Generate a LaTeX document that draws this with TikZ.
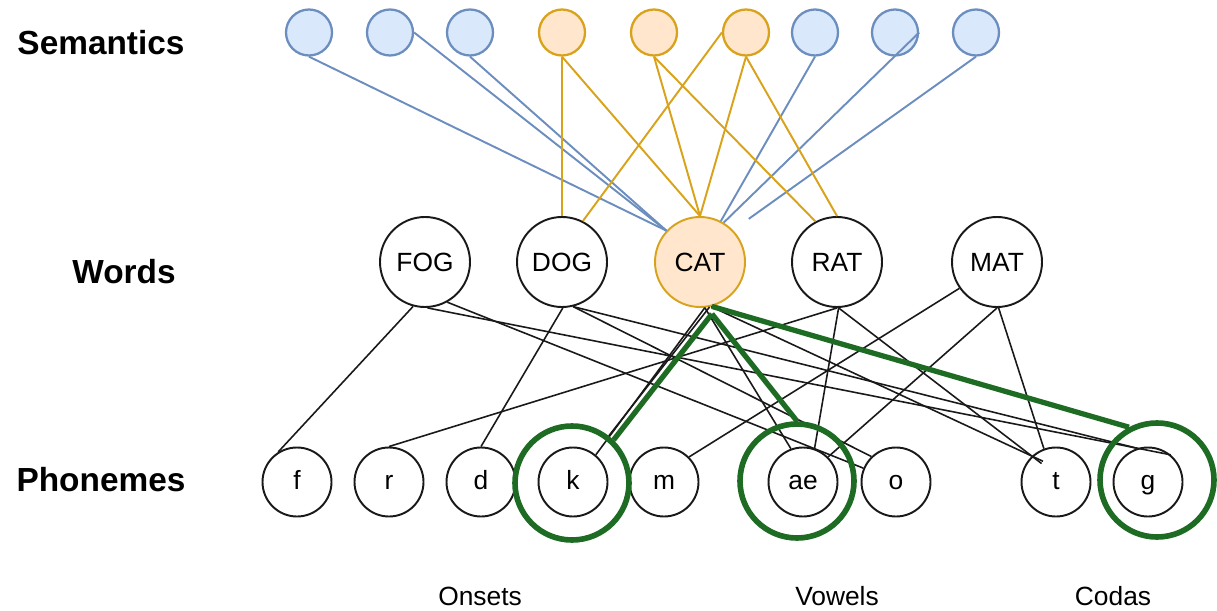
\documentclass[tikz,border=0pt]{standalone}
\usepackage{fontspec}
\setmainfont{Liberation Sans}
\usetikzlibrary{positioning}
\definecolor{sblue}{HTML}{DAE8FC}
\definecolor{sbluedraw}{HTML}{6C8EBF}
\definecolor{sorange}{HTML}{FFE6CC}
\definecolor{sorangedraw}{HTML}{D9A21B}
\definecolor{cgreen}{HTML}{1E6B24}
\tikzset{
  every picture/.style={font=\fontsize{15}{18}\selectfont, line width=0.8pt},
  sem/.style={circle, draw=#1draw, fill=#1, minimum size=0.92cm, inner sep=0pt, line width=1.3pt},
  word/.style={circle, draw=black!90, minimum size=1.8cm, inner sep=0pt, line width=1.1pt, text height=2.4ex, text depth=0.3ex},
  phon/.style={circle, draw=black!90, minimum size=1.38cm, inner sep=0pt, line width=1.1pt, text height=2ex, text depth=0.3ex},
  ring/.style={circle, draw=cgreen, minimum size=2.28cm, inner sep=0pt, line width=3.2pt},
  wire/.style={draw=black!90, line width=0.9pt},
  semwire/.style={draw=#1draw, line width=1.1pt},
  hilite/.style={draw=cgreen, line width=3pt},
  layer/.style={font=\fontsize{19}{22}\selectfont\bfseries},
}

\begin{document}
\begin{tikzpicture}
  \useasboundingbox (0,0) rectangle (24.34,12.2);
  % layer names
  \node[layer] (semlabel) at (2.02,11.34) {Semantics};
  \node[layer] (wordlabel) at (2.48,6.76) {Words};
  \node[layer] (phonlabel) at (2.02,2.6) {Phonemes};
  \node (onsets) at (9.6,0.28) {Onsets};
  \node (vowels) at (16.74,0.28) {Vowels};
  \node (codas) at (22.26,0.28) {Codas};
  % units
  \foreach \x/\c [count=\i] in {6.18/sblue, 7.8/sblue, 9.4/sblue, 11.24/sorange, 13.08/sorange, 14.92/sorange, 16.3/sblue, 17.9/sblue, 19.52/sblue}
    \node[sem=\c] (sem\i) at (\x,11.55) {};
  \foreach \w/\x in {FOG/8.5, DOG/11.24, RAT/16.74, MAT/19.94}
    \node[word] (\w) at (\x,6.96) {\w};
  \node[word, draw=sorangedraw, fill=sorange] (CAT) at (14.0,6.96) {CAT};
  \foreach \p/\x in {f/5.94, r/7.78, d/9.62, k/11.46, m/13.28, ae/16.06, o/17.92, t/21.12, g/22.96}
    \node[phon] (\p) at (\x,2.56) {\p};
  % semantics to words
  \foreach \a/\b in {sem1.south/CAT.137, sem2.east/CAT.137, sem3.south/CAT.137, sem7.south/CAT.63, sem8.east/CAT.59}
    \draw[semwire=sblue] (\a) -- (\b);
  \draw[semwire=sblue, shorten >=11pt] (sem9.south) -- (CAT.44);
  \foreach \a/\b in {sem4.south/DOG.north, sem4.south/CAT.north, sem5.south/CAT.north, sem5.south/RAT.118, sem6.west/DOG.63, sem6.south/CAT.north, sem6.south/RAT.north}
    \draw[semwire=sorange] (\a) -- (\b);
  % words to phonemes
  \foreach \a/\b in {FOG.-105/f.122, FOG.-61/o.157, FOG.-87/g.50, DOG.-89/d.90, DOG.-76/o.134, DOG.-76/g.108,
                     CAT.-84/k.50, CAT.-84/ae.110, RAT.-90/r.90, RAT.-88/ae.71, MAT.-145/m.45, MAT.-90/ae.45, MAT.-88/t.110}
    \draw[wire] (\a) -- (\b);
  \draw[wire, shorten >=-7pt] (CAT.-76) -- (t.133);
  \draw[wire, shorten >=-7pt] (RAT.-88) -- (t.133);
  % highlighted pattern
  \node[ring] (kring) at (11.44,2.54) {};
  \node[ring] (aering) at (15.94,2.58) {};
  \node[ring] (gring) at (23.14,2.6) {};
  \draw[wire] (CAT.-78) -- (kring.52);
  \coordinate (apex) at ([yshift=-0.15cm]CAT.-75);
  \draw[hilite] (apex) -- (kring.46);
  \draw[hilite] (apex) -- (aering.north);
  \draw[hilite] (CAT.-75) -- (gring.118);
\end{tikzpicture}
\end{document}
